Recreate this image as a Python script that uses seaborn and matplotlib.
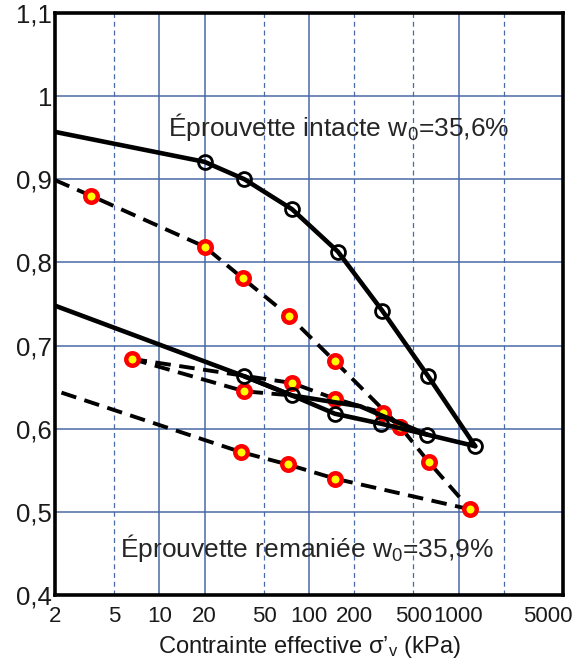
import matplotlib
matplotlib.use('Agg')
import matplotlib.pyplot as plt
import matplotlib.transforms as mtransforms
from matplotlib.ticker import NullLocator
import seaborn as sns

# Eprouvette intacte (kPa, indice des vides)
intact_load_x = [2, 20, 37, 77, 156, 309, 622, 1294]
intact_load_y = [0.957, 0.921, 0.900, 0.864, 0.813, 0.742, 0.664, 0.579]
intact_unload_x = [1294, 614, 304, 149, 77, 37, 2]
intact_unload_y = [0.579, 0.593, 0.606, 0.618, 0.640, 0.663, 0.748]
intact_reload_x = [37, 77, 220, 314, 614]
intact_reload_y = [0.663, 0.640, 0.627, 0.615, 0.593]

# Eprouvette remaniee
remold_load_x = [2, 3.5, 20, 36, 74, 149, 409, 632, 1197]
remold_load_y = [0.899, 0.880, 0.819, 0.781, 0.735, 0.681, 0.602, 0.560, 0.503]
remold_unload_x = [1197, 149, 72, 35, 2]
remold_unload_y = [0.503, 0.540, 0.557, 0.572, 0.646]
remold_reload1_x = [6.5, 77, 149, 314, 409]
remold_reload1_y = [0.684, 0.655, 0.636, 0.619, 0.602]
remold_reload2_x = [6.5, 37, 77]
remold_reload2_y = [0.684, 0.645, 0.640]

x_ticks = [2, 5, 10, 20, 50, 100, 200, 500, 1000, 2000, 5000]
x_labels = ['2', '5', '10', '20', '50', '100', '200', '500', '1000', '', '5000']
x_grid_solid = [10, 20, 100, 1000]
x_grid_dashed = [5, 50, 200, 500, 2000]
y_ticks = [0.4, 0.5, 0.6, 0.7, 0.8, 0.9, 1.0, 1.1]
y_labels = ['0,4', '0,5', '0,6', '0,7', '0,8', '0,9', '1', '1,1']

sns.set_style('white')
plt.rcParams['font.family'] = ['Liberation Sans', 'DejaVu Sans']
plt.rcParams['mathtext.fontset'] = 'custom'
plt.rcParams['mathtext.rm'] = 'Liberation Sans'
plt.rcParams['mathtext.it'] = 'Liberation Sans:italic'

grid_col = '#4a6aa5'

fig = plt.figure(figsize=(5.77, 6.64), dpi=100)
ax = fig.add_axes([55/577, 69/664, 508/577, 582/664])
ax.set_xscale('log')
ax.set_xlim(2, 5000)
ax.set_ylim(0.4, 1.1)

for v in x_grid_solid:
    ax.axvline(v, color=grid_col, lw=1.1, zorder=1)
for v in x_grid_dashed:
    ax.axvline(v, color=grid_col, lw=0.9, ls=(0, (4, 3)), zorder=1)
for v in y_ticks[1:-1]:
    ax.axhline(v, color=grid_col, lw=1.1, zorder=1)


def curve(x, y, dashed, z):
    ls = (0, (4, 2.2)) if dashed else '-'
    lw = 2.8 if dashed else 3.3
    sns.lineplot(x=x, y=y, sort=False, estimator=None, color='black',
                 lw=lw, ls=ls, ax=ax, zorder=z)


def points(x, y, face, edge, size, ew, z):
    sns.lineplot(x=x, y=y, sort=False, estimator=None, ls='none', marker='o',
                 markersize=size, markerfacecolor=face, markeredgecolor=edge,
                 markeredgewidth=ew, color=edge, ax=ax, zorder=z)


# remoulded specimen: dashed + red/yellow markers
curve(remold_load_x, remold_load_y, True, 3)
curve(remold_unload_x, remold_unload_y, True, 3)
curve(remold_reload1_x, remold_reload1_y, True, 3)
curve(remold_reload2_x, remold_reload2_y, True, 3)
red = dict(face='#ffff00', edge='#ff0000', size=9, ew=3.2, z=4)
points(remold_load_x[1:], remold_load_y[1:], **red)
points(remold_unload_x[1:-1], remold_unload_y[1:-1], **red)
points(remold_reload1_x, remold_reload1_y, **red)
points(remold_reload2_x[1:2], remold_reload2_y[1:2], **red)

# intact specimen: solid + open circles
curve(intact_load_x, intact_load_y, False, 5)
curve(intact_unload_x, intact_unload_y, False, 5)
curve(intact_reload_x, intact_reload_y, False, 5)
blk = dict(face='none', edge='black', size=10, ew=2.0, z=6)
points(intact_load_x[1:], intact_load_y[1:], **blk)
points(intact_unload_x[1:-1], intact_unload_y[1:-1], **blk)

ax.text(159, 0.963, 'Éprouvette intacte w$_\\mathregular{0}$=35,6%',
        ha='center', va='center', fontsize=19, zorder=7)
ax.text(97, 0.457, 'Éprouvette remaniée w$_\\mathregular{0}$=35,9%',
        ha='center', va='center', fontsize=19, zorder=7)

ax.xaxis.set_minor_locator(NullLocator())
ax.set_xticks(x_ticks)
ax.set_xticklabels(x_labels)
ax.set_yticks(y_ticks)
ax.set_yticklabels(y_labels)
ax.tick_params(axis='both', direction='in', length=3, width=1, color=grid_col,
               labelcolor='#1a1a1a')
ax.tick_params(axis='y', labelsize=18.5, pad=2)
ax.tick_params(axis='x', labelsize=16, pad=8)
last = ax.get_xticklabels()[-1]
last.set_transform(last.get_transform() +
                   mtransforms.ScaledTranslation(-15/100, 0, fig.dpi_scale_trans))

ax.set_xlabel('Contrainte effective σ’$_\\mathregular{v}$ (kPa)', fontsize=17,
              labelpad=5, color='#1a1a1a')
ax.set_ylabel('')

for s in ax.spines.values():
    s.set_color('black')
    s.set_linewidth(2.6)
    s.set_zorder(8)

fig.savefig('out.png', dpi=100)
